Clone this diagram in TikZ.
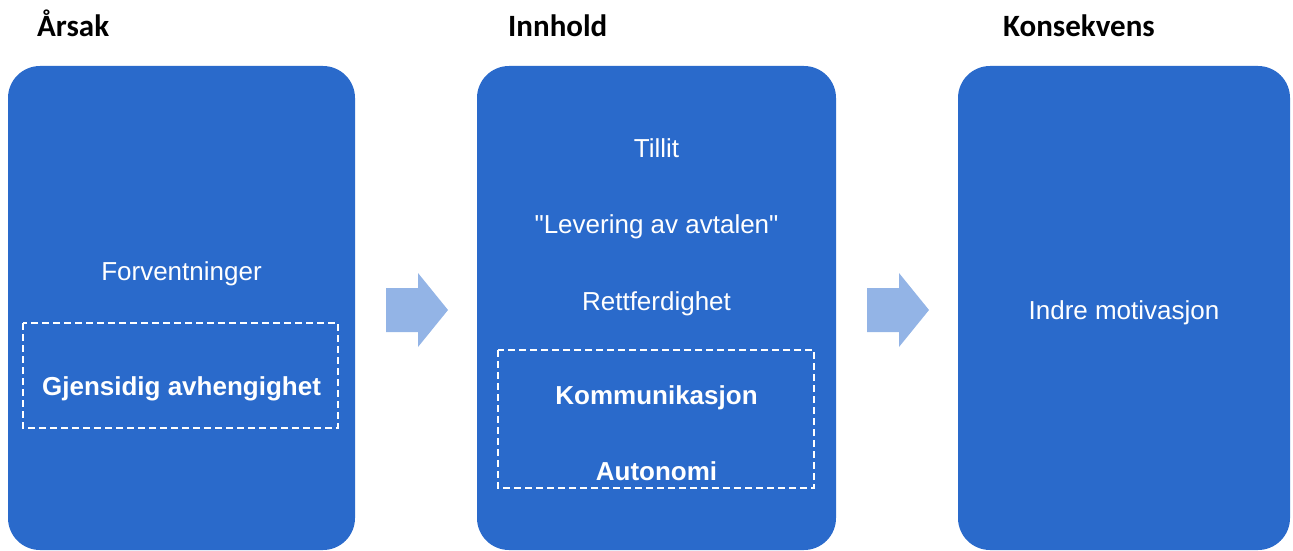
\documentclass[tikz,border=0pt]{standalone}
\usepackage{fontspec}
\setmainfont{Liberation Sans}[Ligatures=TeXOff]
\newfontfamily\headfont{Carlito}
\definecolor{boxblue}{HTML}{2A6ACB}
\definecolor{arrowblue}{HTML}{93B4E6}
\tikzset{
  panel/.style={fill=boxblue, rounded corners=32pt},
  frame/.style={draw=white, line width=2pt, dash pattern=on 7pt off 4pt},
  head/.style={anchor=base west, inner sep=0pt, font=\headfont\bfseries\fontsize{31}{37}\selectfont},
  item/.style={anchor=base, inner sep=0pt, text=white, font=\fontsize{26}{31}\selectfont},
  flow/.style={fill=arrowblue}
}
\begin{document}
\begin{tikzpicture}[x=1pt, y=-1pt]
\useasboundingbox (0,0) rectangle (1293,551);
% panels
\fill[panel] (8,66) rectangle (355,550);
\fill[panel] (477,66) rectangle (836,550);
\fill[panel] (958,66) rectangle (1290,550);
% dashed frames
\draw[frame] (23,323) rectangle (338,428);
\draw[frame] (498,350) rectangle (814,488);
% headings
\node[head] (arsak) at (37,37) {Årsak};
\node[head] (innhold) at (508,37) {Innhold};
\node[head] (konsekvens) at (1003,37) {Konsekvens};
% texts
\node[item] (forv) at (181.5,280) {Forventninger};
\node[item, font=\bfseries\fontsize{26}{31}\selectfont] (gjens) at (181.5,395) {Gjensidig avhengighet};
\node[item] (tillit) at (656.5,157) {Tillit};
\node[item] (lever) at (656.5,233) {"Levering av avtalen"};
\node[item] (rett) at (656.5,310) {Rettferdighet};
\node[item, font=\bfseries\fontsize{26}{31}\selectfont] (komm) at (656.5,404) {Kommunikasjon};
\node[item, font=\bfseries\fontsize{26}{31}\selectfont] (auto) at (656.5,480) {Autonomi};
\node[item] (indre) at (1124,319) {Indre motivasjon};
% arrows
\foreach \x in {386,867}{
  \fill[flow] (\x,288) -- ++(32,0) -- ++(0,-15) -- ++(30,37) -- ++(-30,37) -- ++(0,-15) -- ++(-32,0) -- cycle;
}
\end{tikzpicture}
\end{document}
